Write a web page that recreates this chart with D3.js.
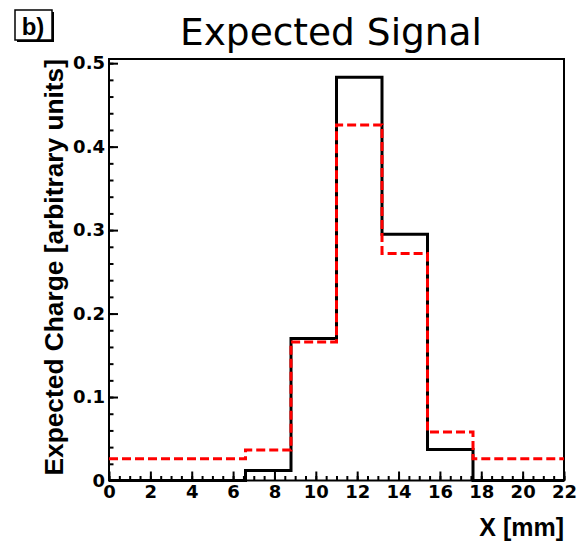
<!DOCTYPE html>
<html>
<head>
<meta charset="utf-8">
<script src="https://cdn.jsdelivr.net/npm/d3@7"></script>
<style>
  html, body { margin: 0; padding: 0; background: #fff; }
  svg { display: block; }
</style>
</head>
<body>
<div id="chart"></div>
<script>
// Histogram bins along X (mm)
const binEdges = [0, 2.2, 4.4, 6.6, 8.8, 11.0, 13.2, 15.4, 17.6, 19.8, 22.0];
// Solid black histogram
const signalSolid = [0, 0, 0, 0.012, 0.170, 0.483, 0.295, 0.037, 0, 0];
// Dashed red histogram
const signalDashed = [0.026, 0.026, 0.026, 0.0365, 0.166, 0.426, 0.272, 0.058, 0.026, 0.026];
// Axis tick values
const xTicks = [0, 2, 4, 6, 8, 10, 12, 14, 16, 18, 20, 22];
const yTicks = [0, 0.1, 0.2, 0.3, 0.4, 0.5];

const W = 577, H = 541;
const frame = { left: 109, right: 564, top: 59, bottom: 480.5 };

const svg = d3.select("#chart").append("svg")
  .attr("width", W).attr("height", H)
  .attr("viewBox", `0 0 ${W} ${H}`);

svg.append("rect").attr("width", W).attr("height", H).attr("fill", "#fff");

const x = d3.scaleLinear().domain([0, 22]).range([frame.left, frame.right]);
const y = d3.scaleLinear().domain([0, 0.505]).range([frame.bottom, frame.top]);

// Step outline for a histogram: flat segment across each bin
function stepPoints(values) {
  const pts = [];
  values.forEach((v, i) => {
    pts.push([binEdges[i], v]);
    pts.push([binEdges[i + 1], v]);
  });
  return pts;
}
const line = d3.line().x(d => x(d[0])).y(d => y(d[1]));

// Frame box
svg.append("rect")
  .attr("x", frame.left).attr("y", frame.top)
  .attr("width", frame.right - frame.left)
  .attr("height", frame.bottom - frame.top)
  .attr("fill", "none").attr("stroke", "#000").attr("stroke-width", 2);

// Minor ticks
const xMinor = d3.range(0, 22.001, 0.5);
const yMinor = d3.range(0, 0.5001, 0.02);

svg.append("g")
  .attr("transform", `translate(0,${frame.bottom})`)
  .call(d3.axisBottom(x).tickValues(xMinor).tickSize(-4.5).tickFormat(""))
  .call(g => g.select(".domain").remove())
  .call(g => g.selectAll("line").attr("stroke-width", 2));

svg.append("g")
  .attr("transform", `translate(${frame.left},0)`)
  .call(d3.axisLeft(y).tickValues(yMinor).tickSize(-4.5).tickFormat(""))
  .call(g => g.select(".domain").remove())
  .call(g => g.selectAll("line").attr("stroke-width", 2));

// Major ticks + labels
const xAxis = svg.append("g")
  .attr("transform", `translate(0,${frame.bottom})`)
  .call(d3.axisBottom(x).tickValues(xTicks).tickSize(-9).tickPadding(5)
        .tickFormat(d3.format("d")));
xAxis.select(".domain").remove();
xAxis.selectAll("line").attr("stroke-width", 2);
xAxis.selectAll("text")
  .attr("font-family", "'DejaVu Sans', sans-serif")
  .attr("font-weight", "bold").attr("font-size", 18).attr("fill", "#000");

const yAxis = svg.append("g")
  .attr("transform", `translate(${frame.left},0)`)
  .call(d3.axisLeft(y).tickValues(yTicks).tickSize(-9).tickPadding(4)
        .tickFormat(d => d === 0 ? "0" : d3.format(".1f")(d)));
yAxis.select(".domain").remove();
yAxis.selectAll("line").attr("stroke-width", 2);
yAxis.selectAll("text")
  .attr("font-family", "'DejaVu Sans', sans-serif")
  .attr("font-weight", "bold").attr("font-size", 18).attr("fill", "#000");

// Histograms
svg.append("path")
  .datum(stepPoints(signalSolid))
  .attr("d", line)
  .attr("fill", "none").attr("stroke", "#000")
  .attr("stroke-width", 3).attr("stroke-linejoin", "miter");

svg.append("path")
  .datum(stepPoints(signalDashed))
  .attr("d", line)
  .attr("fill", "none").attr("stroke", "#ff0000")
  .attr("stroke-width", 3).attr("stroke-dasharray", "9,4");

// Title
svg.append("text")
  .attr("x", 331).attr("y", 45)
  .attr("text-anchor", "middle")
  .attr("font-family", "'DejaVu Sans', sans-serif")
  .attr("font-size", 37.5).attr("fill", "#000")
  .text("Expected Signal");

// Axis titles
svg.append("text")
  .attr("transform", "translate(63,59) rotate(-90)")
  .attr("text-anchor", "end")
  .attr("font-family", "'Liberation Sans', Arial, sans-serif")
  .attr("font-weight", "bold").attr("font-size", 26.3).attr("fill", "#000")
  .text("Expected Charge [arbitrary units]");

svg.append("text")
  .attr("x", 564).attr("y", 536)
  .attr("text-anchor", "end")
  .attr("font-family", "'Liberation Sans', Arial, sans-serif")
  .attr("font-weight", "bold").attr("font-size", 25).attr("fill", "#000")
  .text("X [mm]");

// Panel label with shadowed box
const tag = svg.append("g");
tag.append("rect").attr("x", 17).attr("y", 12).attr("width", 37).attr("height", 30).attr("fill", "#000");
tag.append("rect").attr("x", 15).attr("y", 10).attr("width", 37).attr("height", 30)
  .attr("fill", "#fff").attr("stroke", "#000").attr("stroke-width", 1.5);
tag.append("text")
  .attr("x", 33).attr("y", 35).attr("text-anchor", "middle")
  .attr("font-family", "'Liberation Sans', Arial, sans-serif")
  .attr("font-weight", "bold").attr("font-size", 24).attr("fill", "#000")
  .text("b)");
</script>
</body>
</html>
